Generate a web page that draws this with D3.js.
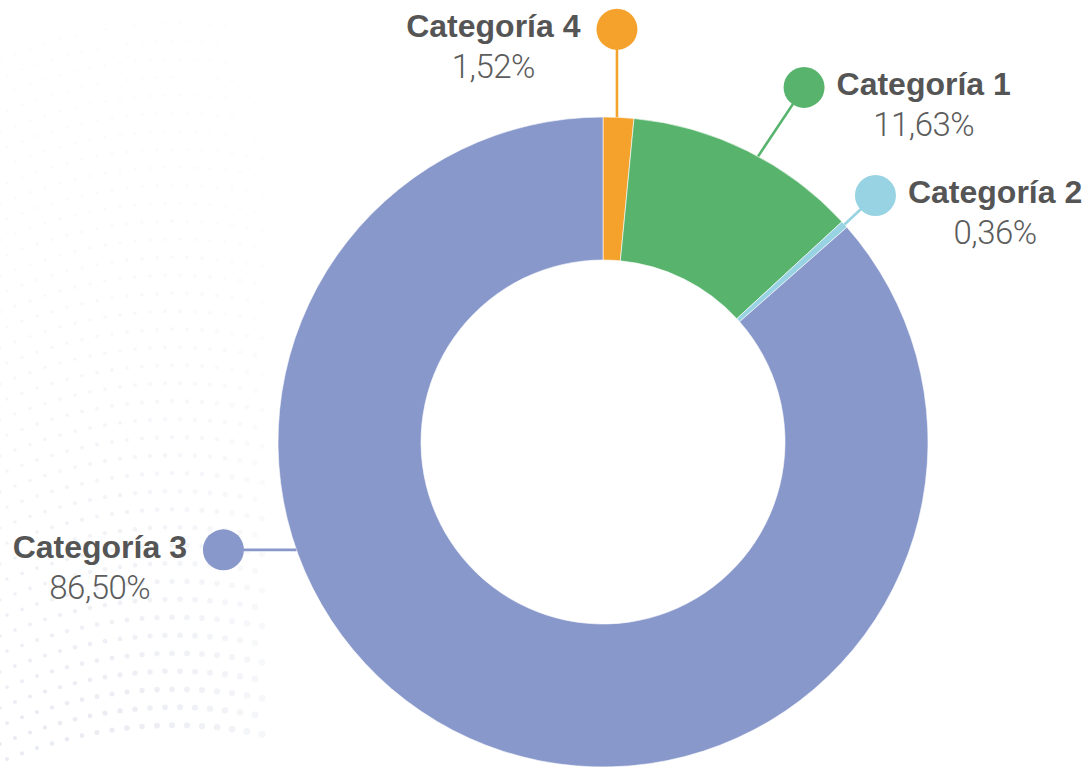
<!DOCTYPE html>
<html>
<head>
<meta charset="utf-8">
<script src="https://cdn.jsdelivr.net/npm/d3@7"></script>
<style>
  html, body { margin: 0; padding: 0; background: #fff; }
  svg { display: block; }
  .cat { font-family: "Liberation Sans", Arial, sans-serif; font-weight: 700; font-size: 32px; fill: #555; }
  .pct { font-family: Roboto, "Open Sans", sans-serif; font-weight: 300; font-size: 33px; fill: #5c5c5c; letter-spacing: -0.5px; }
</style>
</head>
<body>
<svg id="chart" width="1088" height="769"></svg>
<script>
// data, clockwise from 12 o'clock
const categories = ["Categoría 4", "Categoría 1", "Categoría 2", "Categoría 3"]
const values = [1.52, 11.63, 0.36, 86.50]
const valueLabels = ["1,52%", "11,63%", "0,36%", "86,50%"]
const colors = ["#f5a22c", "#58b46d", "#97d3e2", "#8898cb"]

// where the leader line leaves each slice (fraction of the slice) and where its dot sits
const anchorFrac = [0.45, 0.55, 0.5, 0.6487]
const dotOffset = [[0, -88], [46, -69], [31, -29], [-73, 0]]
const labelSide = ["left", "right", "right", "left"]

const width = 1088, height = 769
const cx = 603, cy = 442
const outerR = 325, innerR = 182
const dotR = 20.5

const svg = d3.select("#chart")

// faint decorative dot pattern on the left
const deco = svg.append("g").attr("class", "deco")
for (let row = 0; row < 40; row++) {
    for (let col = 0; col < 18; col++) {
        let x = col * 15 + (row % 2) * 7
        let y = 60 + row * 18 - x * 0.42 + Math.pow(x / 100, 2) * 12
        if (y < 0 || y > height) continue
        let t = y / height
        let r = 1.2 + 1.8 * t * (x / 270 + 0.4)
        let fade = Math.min(1, 0.2 + 0.8 * t * t) * (1 - Math.pow(x / 280, 3) * 0.7)
        deco.append("circle")
            .attr("cx", x)
            .attr("cy", y)
            .attr("r", r)
            .attr("fill", "#e8eaf1")
            .attr("opacity", fade)
    }
}

const pie = d3.pie().sort(null).value((d) => d)
const arcs = pie(values)
const arc = d3.arc().innerRadius(innerR).outerRadius(outerR)

const g = svg.append("g").attr("transform", `translate(${cx},${cy})`)

g.selectAll("path.slice")
    .data(arcs)
    .enter()
    .append("path")
    .attr("class", "slice")
    .attr("d", arc)
    .attr("fill", (d, i) => colors[i])
    .attr("stroke", "#fff")
    .attr("stroke-width", 0.6)

// leader lines, dots and labels
const labels = g.append("g").attr("class", "labels")

arcs.forEach((d, i) => {
    let a = d.startAngle + (d.endAngle - d.startAngle) * anchorFrac[i]
    let ax = outerR * Math.sin(a)
    let ay = -outerR * Math.cos(a)
    let dx = ax + dotOffset[i][0]
    let dy = ay + dotOffset[i][1]

    labels.append("line")
        .attr("x1", ax).attr("y1", ay)
        .attr("x2", dx).attr("y2", dy)
        .attr("stroke", colors[i])
        .attr("stroke-width", 2.6)

    labels.append("circle")
        .attr("cx", dx).attr("cy", dy)
        .attr("r", dotR)
        .attr("fill", colors[i])

    let catText = labels.append("text")
        .attr("class", "cat")
        .attr("y", dy + 8)
        .text(categories[i])

    let w = catText.node().getComputedTextLength()
    let x0 = labelSide[i] == "right" ? dx + dotR + 12 : dx - dotR - 16 - w
    catText.attr("x", x0)

    labels.append("text")
        .attr("class", "pct")
        .attr("x", x0 + w / 2)
        .attr("y", dy + 49)
        .attr("text-anchor", "middle")
        .text(valueLabels[i])
})
</script>
</body>
</html>
